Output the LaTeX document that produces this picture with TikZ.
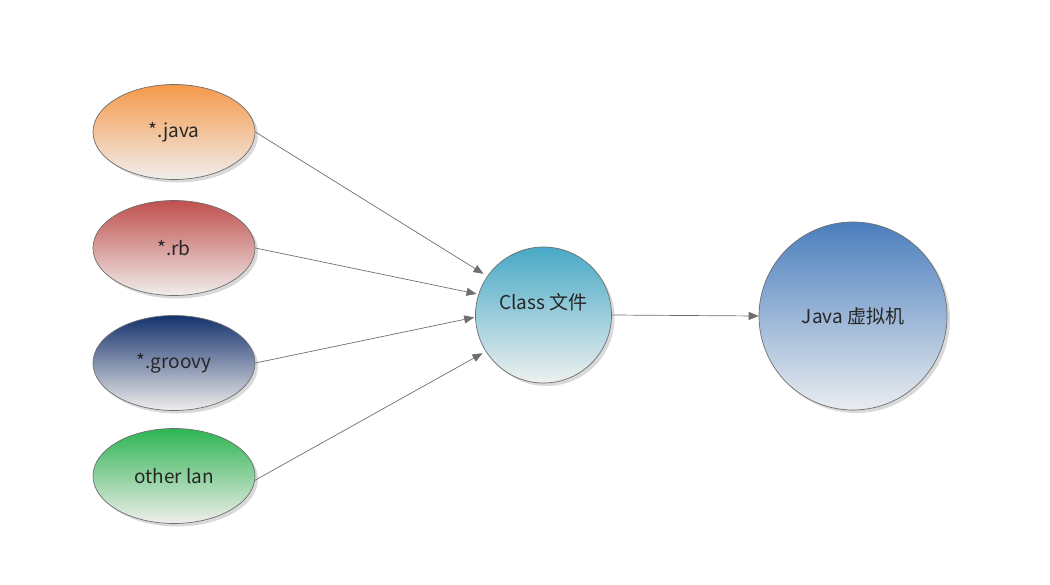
\documentclass[tikz,border=0pt]{standalone}
\usepackage{fontspec}
\setmainfont{Noto Sans CJK SC}
\usetikzlibrary{shapes.geometric,arrows.meta,shadows}
\definecolor{txt}{HTML}{262626}
\definecolor{edge}{HTML}{6E6E6E}
\definecolor{lite}{HTML}{F0EEEC}
\definecolor{cjava}{HTML}{F5994A}
\definecolor{crb}{HTML}{C0504D}
\definecolor{cgroovy}{HTML}{14326E}
\definecolor{cother}{HTML}{2DB552}
\definecolor{ccls}{HTML}{47A9C6}
\definecolor{cclsb}{HTML}{EEF0F0}
\definecolor{cjvm}{HTML}{4A7EBD}
\definecolor{cjvmb}{HTML}{EAEDF0}
\tikzset{
  lbl/.style={text=txt, font=\fontsize{19}{22}\selectfont},
  base/.style={lbl, draw=edge, line width=0.7pt,
    drop shadow={shadow xshift=3pt, shadow yshift=-3pt, opacity=0.25, fill=black!60}},
  src/.style={base, ellipse, minimum width=162pt, minimum height=95pt, inner sep=0pt, yshift=-2pt},
  ball/.style={base, circle, inner sep=0pt},
  conn/.style={draw=edge, line width=0.7pt, -{Triangle[length=10pt,width=8pt]}},
}
\begin{document}
\begin{tikzpicture}[x=1pt,y=-1pt]
\useasboundingbox (0,0) rectangle (1050,584);
\node[src, top color=cjava, bottom color=lite] (java) at (174,130) {*.java};
\node[src, top color=crb, bottom color=lite] (rb) at (174,246) {*.rb};
\node[src, top color=cgroovy, bottom color=lite] (groovy) at (174,361) {*.groovy};
\node[src, top color=cother, bottom color=lite] (other) at (174,474) {other lan};
\node[ball, minimum size=136pt, top color=ccls, bottom color=cclsb] (cls) at (543.5,315) {};
\node[lbl] (clstext) at (543.5,302) {Class 文件};
\node[ball, minimum size=188pt, top color=cjvm, bottom color=cjvmb] (jvm) at (853,316) {Java 虚拟机};
\draw[conn] (java.east) -- ([shift={(-4,-2)}]cls.145);
\draw[conn] (rb.east) -- ([shift={(-2,0)}]cls.162);
\draw[conn] (groovy.east) -- ([shift={(-1,0)}]cls.182);
\draw[conn] (other.-3) -- ([shift={(-3,2)}]cls.212);
\draw[conn] (cls.east) -- (jvm.west);
\end{tikzpicture}
\end{document}
